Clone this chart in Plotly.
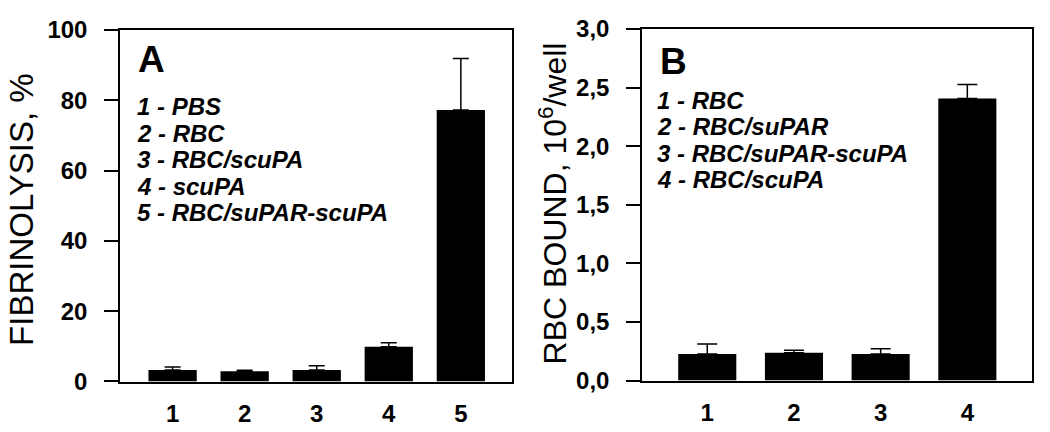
import plotly.graph_objects as go

# Panel A data
cats_a = [1, 2, 3, 4, 5]
vals_a = [3.3, 2.9, 3.3, 9.9, 77.2]
errs_a = [0.8, 0.3, 1.2, 1.1, 14.7]
labels_a = ["1 - PBS", "2 - RBC", "3 - RBC/scuPA", "4 - scuPA", "5 - RBC/suPAR-scuPA"]
yticks_a = [0, 20, 40, 60, 80, 100]

# Panel B data
cats_b = [1, 2, 3, 4]
vals_b = [0.227, 0.238, 0.227, 2.407]
errs_b = [0.085, 0.02, 0.045, 0.12]
labels_b = ["1 - RBC", "2 - RBC/suPAR", "3 - RBC/suPAR-scuPA", "4 - RBC/scuPA"]
yticks_b = [0, 0.5, 1.0, 1.5, 2.0, 2.5, 3.0]

W, H = 1050, 432
FONT = "Liberation Sans, Arial, sans-serif"


def px(x):
    return x / W


def py(y):
    return 1 - y / H


fig = go.Figure()
fig.add_trace(go.Bar(
    x=cats_a, y=vals_a, width=0.67, marker=dict(color="black", line=dict(width=0)),
    error_y=dict(type="data", array=errs_a, arrayminus=[0] * len(errs_a), symmetric=False,
                 color="black", thickness=1.5, width=8),
    xaxis="x", yaxis="y", showlegend=False))
fig.add_trace(go.Bar(
    x=cats_b, y=vals_b, width=0.67, marker=dict(color="black", line=dict(width=0)),
    error_y=dict(type="data", array=errs_b, arrayminus=[0] * len(errs_b), symmetric=False,
                 color="black", thickness=1.5, width=10),
    xaxis="x2", yaxis="y2", showlegend=False))

tickfont = dict(family=FONT, size=24, color="black", weight="bold")
common_x = dict(showgrid=False, zeroline=False, showline=True, linecolor="black", linewidth=1.5,
                mirror=True, ticks="", tickfont=tickfont, ticklabelstandoff=10, fixedrange=True)
common_y = dict(showgrid=False, zeroline=False, showline=True, linecolor="black", linewidth=1.5,
                mirror=True, ticks="outside", ticklen=14, tickwidth=1.5, tickcolor="black",
                tickfont=tickfont, ticklabelstandoff=12, fixedrange=True)

fig.update_layout(
    width=W, height=H, margin=dict(l=0, r=0, t=0, b=0),
    paper_bgcolor="white", plot_bgcolor="white", separators=",.",
    xaxis=dict(domain=[px(120), px(512)], range=[0.27, 5.71], tickvals=cats_a,
               anchor="y", **common_x),
    yaxis=dict(domain=[py(392), py(17)], range=[0, 100], tickvals=yticks_a,
               anchor="x", **common_y),
    xaxis2=dict(domain=[px(642), px(1032)], range=[0.247, 4.746], tickvals=cats_b,
                anchor="y2", **common_x),
    yaxis2=dict(domain=[py(391), py(16)], range=[0, 3.0], tickvals=yticks_b, tickformat=".1f",
                anchor="x2", **common_y),
)

ann = []
# Y titles
ann.append(dict(text="FIBRINOLYSIS, %", x=px(22), y=py(209), xref="paper", yref="paper",
                textangle=-90, showarrow=False, xanchor="center", yanchor="middle",
                font=dict(family=FONT, size=33, color="black")))
ann.append(dict(text="RBC BOUND, 10<sup>6</sup>/well", x=px(553), y=py(202), xref="paper", yref="paper",
                textangle=-90, showarrow=False, xanchor="center", yanchor="middle",
                font=dict(family=FONT, size=32, color="black")))
# Panel letters
ann.append(dict(text="A", x=px(136), y=py(49), xref="paper", yref="paper", showarrow=False,
                xanchor="left", yanchor="middle", font=dict(family=FONT, size=37, color="black", weight="bold")))
ann.append(dict(text="B", x=px(658), y=py(51), xref="paper", yref="paper", showarrow=False,
                xanchor="left", yanchor="middle", font=dict(family=FONT, size=37, color="black", weight="bold")))
# Legends
for i, t in enumerate(labels_a):
    ann.append(dict(text=t, x=px(135), y=py(99 + 28.3 * i), xref="paper", yref="paper", showarrow=False,
                    xanchor="left", yanchor="middle",
                    font=dict(family=FONT, size=24, color="black", weight="bold", style="italic")))
for i, t in enumerate(labels_b):
    ann.append(dict(text=t, x=px(655), y=py(92 + 28.3 * i), xref="paper", yref="paper", showarrow=False,
                    xanchor="left", yanchor="middle",
                    font=dict(family=FONT, size=24, color="black", weight="bold", style="italic")))
fig.update_layout(annotations=ann)

fig.write_html("out.html", config={"displayModeBar": False},
               post_script="document.body.style.margin='0';document.body.style.overflow='hidden';")
